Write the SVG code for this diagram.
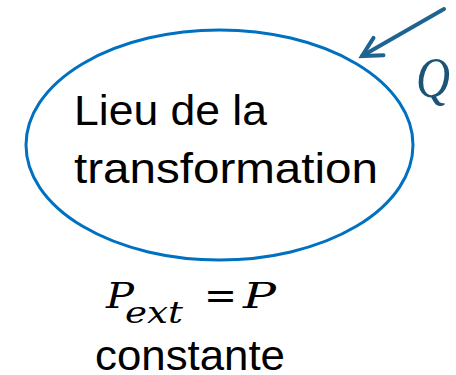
<svg xmlns="http://www.w3.org/2000/svg" width="456" height="375" viewBox="0 0 456 375">
  <style>
    .node { fill: #FFFFFF; stroke: #0070C0; stroke-width: 3; }
    .label { font-family: "Liberation Sans", Arial, sans-serif; font-size: 42px; fill: #000000; }
    .math { font-family: "DejaVu Serif", "Liberation Serif", serif; font-style: italic; fill: #000000; }
    .conn { stroke: #1F6391; stroke-width: 4; fill: none; stroke-linecap: round; }
    .q { font-family: "Liberation Serif", "Times New Roman", serif; font-style: italic; font-size: 58px; fill: #1C5478; }
  </style>
  <defs>
    <marker id="chev" markerUnits="userSpaceOnUse" viewBox="-22 -14 26 28" markerWidth="26" markerHeight="28" refX="0" refY="0" orient="auto">
      <path d="M-19,-10 L0,0 L-19,10" fill="none" stroke="#1F6391" stroke-width="4" stroke-linecap="round" stroke-linejoin="miter"/>
    </marker>
  </defs>
  <rect width="456" height="375" fill="#FFFFFF"/>
  <g id="lieu">
    <ellipse class="node" cx="219.5" cy="145" rx="193.5" ry="115"/>
    <text class="label" x="74" y="125" textLength="193" lengthAdjust="spacingAndGlyphs">Lieu de la</text>
    <text class="label" x="74" y="183" textLength="304" lengthAdjust="spacingAndGlyphs">transformation</text>
  </g>
  <g id="connectors">
    <line class="conn" x1="444" y1="9" x2="362" y2="56" marker-end="url(#chev)"/>
  </g>
  <g id="q-label">
    <text class="q" x="416" y="97" textLength="34" lengthAdjust="spacingAndGlyphs">Q</text>
  </g>
  <g id="pression">
    <text class="math" x="106" y="308" font-size="35" textLength="28" lengthAdjust="spacingAndGlyphs">P</text>
    <text class="math" x="125" y="323" font-size="30" textLength="58" lengthAdjust="spacingAndGlyphs">ext</text>
    <text x="204" y="309" font-family="DejaVu Serif, serif" font-size="40" fill="#000000" textLength="33" lengthAdjust="spacingAndGlyphs">=</text>
    <text class="math" x="243" y="308" font-size="35" textLength="33" lengthAdjust="spacingAndGlyphs">P</text>
    <text class="label" x="95" y="370" textLength="190" lengthAdjust="spacingAndGlyphs">constante</text>
  </g>
</svg>
